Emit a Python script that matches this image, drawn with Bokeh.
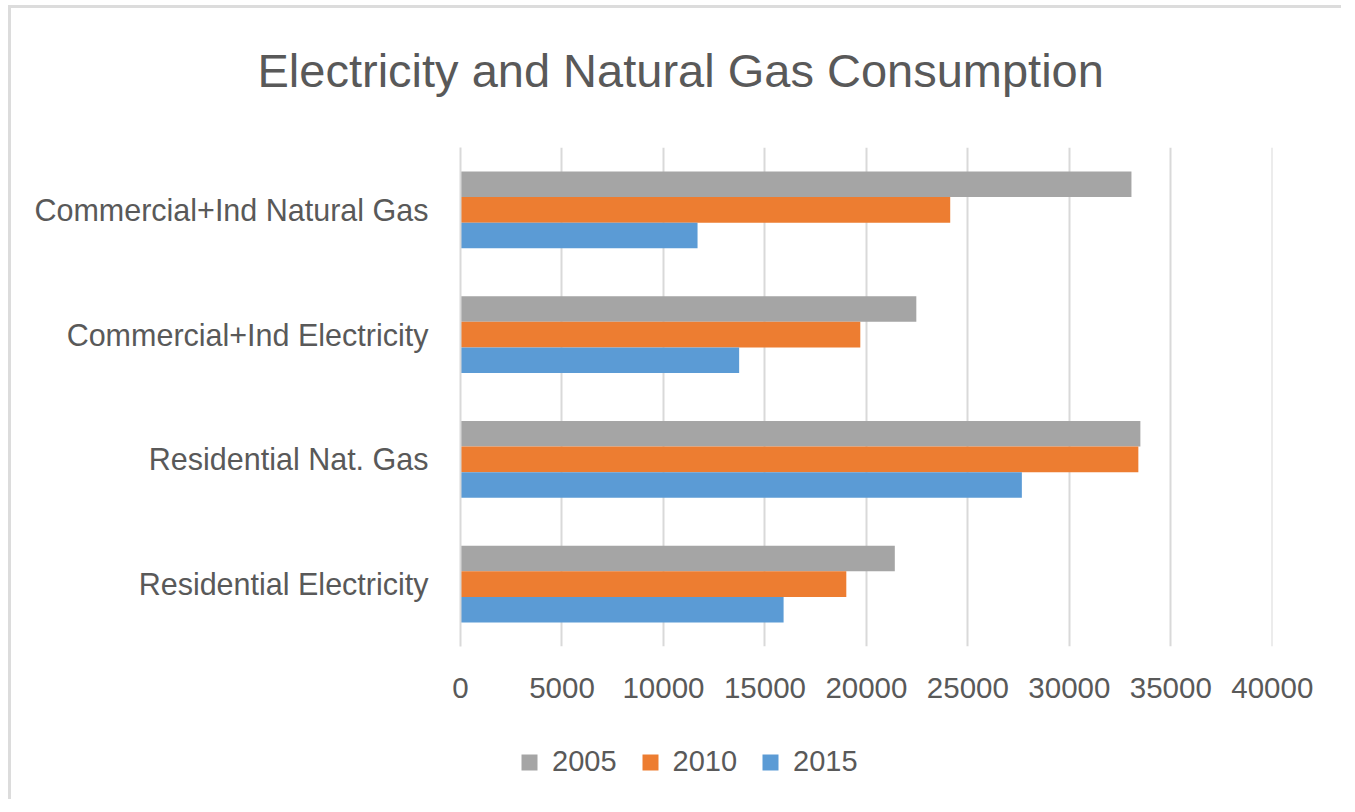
from bokeh.plotting import figure
from bokeh.layouts import column
from bokeh.models import ColumnDataSource, FactorRange, FixedTicker, Legend, LegendItem, Range1d
from bokeh.transform import dodge
from bokeh.embed import file_html
from bokeh.resources import INLINE

categories = ["Residential Electricity", "Residential Nat. Gas",
              "Commercial+Ind Electricity", "Commercial+Ind Natural Gas"]
v2005 = [21400, 33500, 22460, 33060]
v2010 = [19010, 33400, 19700, 24130]
v2015 = [15920, 27660, 13730, 11680]
series = ["2005", "2010", "2015"]
colors = ["#A5A5A5", "#ED7D31", "#5B9BD5"]
x_ticks = [0, 5000, 10000, 15000, 20000, 25000, 30000, 35000, 40000]
title_text = "Electricity and Natural Gas Consumption"

FONT = "Liberation Sans"
TXT = "#595959"
W = 1330
MBL, MBR = 449, 69

src = ColumnDataSource(dict(cat=categories, y2005=v2005, y2010=v2010, y2015=v2015))

# ---- title strip ----
pt = figure(width=W, height=130, output_backend="svg", toolbar_location=None,
            x_axis_type=None, y_axis_type=None,
            min_border_left=MBL, min_border_right=MBR, min_border_top=0, min_border_bottom=0)
pt.outline_line_color = None
pt.grid.grid_line_color = None
pt.border_fill_color = "white"
pt.title.text = title_text
pt.title.text_font = FONT
pt.title.text_font_size = "47px"
pt.title.text_font_style = "normal"
pt.title.text_color = TXT
pt.title.align = "left"
pt.title.offset = -203
pt.title.standoff = 66

# ---- main chart ----
p = figure(width=W, height=581, output_backend="svg", toolbar_location=None, title=None,
           y_range=FactorRange(*categories), x_range=Range1d(0, 40010),
           min_border_left=MBL, min_border_right=MBR, min_border_top=9, min_border_bottom=73)
p.outline_line_color = None
p.background_fill_color = "white"
p.border_fill_color = "white"

bh = 0.205
offsets = [bh, 0.0, -bh]
for s, c, off in zip(series, colors, offsets):
    p.hbar(y=dodge("cat", off, range=p.y_range), right="y" + s, left=0, height=bh,
           source=src, fill_color=c, line_color=None)

p.xaxis.ticker = FixedTicker(ticks=x_ticks)
p.xaxis.major_label_overrides = {t: str(t) for t in x_ticks}
p.xaxis.axis_line_color = None
p.xaxis.major_tick_line_color = None
p.xaxis.minor_tick_line_color = None
p.xaxis.major_tick_out = 0
p.xaxis.major_label_standoff = 31
p.xaxis.major_label_text_font = FONT
p.xaxis.major_label_text_font_size = "29.5px"
p.xaxis.major_label_text_color = TXT

p.yaxis.axis_line_color = "#D9D9D9"
p.yaxis.axis_line_width = 2
p.yaxis.major_tick_line_color = None
p.yaxis.minor_tick_line_color = None
p.yaxis.major_tick_out = 0
p.yaxis.major_label_standoff = 32
p.yaxis.major_label_text_font = FONT
p.yaxis.major_label_text_font_size = "30.5px"
p.yaxis.major_label_text_color = TXT

p.xgrid.grid_line_color = "#D9D9D9"
p.xgrid.grid_line_width = 2
p.ygrid.grid_line_color = None

# ---- legend strip ----
pl = figure(width=W, height=80, output_backend="svg", toolbar_location=None,
            x_axis_type=None, y_axis_type=None,
            y_range=FactorRange(*categories), x_range=Range1d(-20, -10),
            min_border_left=MBL, min_border_right=MBR, min_border_top=0, min_border_bottom=0)
pl.outline_line_color = None
pl.grid.grid_line_color = None
pl.border_fill_color = "white"
leg_renderers = []
for s, c in zip(series, colors):
    r = pl.hbar(y="cat", right="y" + s, left=0, height=0, source=src,
                fill_color=c, line_color=None)
    leg_renderers.append(r)

legend = Legend(items=[LegendItem(label=s, renderers=[r]) for s, r in zip(series, leg_renderers)],
                orientation="horizontal", location=(59, 21),
                glyph_width=20, glyph_height=20, label_standoff=13, spacing=23,
                label_text_font=FONT, label_text_font_size="29px", label_text_color=TXT,
                border_line_color=None, background_fill_alpha=0, padding=5, margin=0)
pl.add_layout(legend, "center")

layout = column(pt, p, pl, spacing=0)
layout.styles = {"border-top": "3px solid #DCDCDC", "border-left": "3px solid #DCDCDC",
                 "margin-left": "8px", "margin-top": "5px"}

open("out.html", "w").write(file_html(layout, INLINE))
